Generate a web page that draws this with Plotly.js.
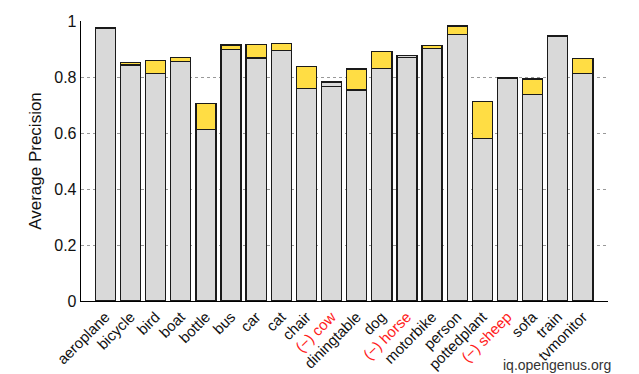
<!DOCTYPE html>
<html>
<head>
<meta charset="utf-8">
<script src="https://cdn.plot.ly/plotly-3.0.1.min.js"></script>
<style>html,body{margin:0;padding:0;background:#fff;}#chart{width:639px;height:374px;}</style>
</head>
<body>
<div id="chart"></div>
<script>
const categories = ["aeroplane","bicycle","bird","boat","bottle","bus","car","cat","chair","(−) cow","diningtable","dog","(−) horse","motorbike","person","pottedplant","(−) sheep","sofa","train","tvmonitor"];
const negativeClass = [false,false,false,false,false,false,false,false,false,true,false,false,true,false,false,false,true,false,false,false];
const baseAP = [0.974,0.843,0.812,0.856,0.613,0.899,0.868,0.894,0.758,0.767,0.754,0.831,0.869,0.902,0.951,0.581,0.795,0.738,0.946,0.812];
const deltaAP = [0.002,0.008,0.046,0.013,0.092,0.015,0.049,0.025,0.079,0.015,0.075,0.061,0.007,0.011,0.031,0.132,0.003,0.055,0.000,0.053];
const yTicks = [0,0.2,0.4,0.6,0.8,1];
const yTickText = ["0","0.2","0.4","0.6","0.8","1"];

const idx = categories.map((c,i)=>i);
const tickText = categories.map((c,i)=> negativeClass[i] ? '<span style="color:#ff2020">'+c+'</span>' : c);
const gray = '#d9d9d9', yellow = '#ffdd44';

const traces = [
  {type:'bar', x:idx, y:baseAP, width:0.8,
   marker:{color:gray, line:{color:'#1a1a1a', width:1.3}}, hoverinfo:'skip'},
  {type:'bar', x:idx, y:deltaAP, width:0.8,
   marker:{color:negativeClass.map(n=>n?gray:yellow), line:{color:'#1a1a1a', width:1.3}}, hoverinfo:'skip'}
];
const layout = {
  width:639, height:374, barmode:'stack', showlegend:false,
  margin:{l:81, r:31, t:21, b:73},
  paper_bgcolor:'#fff', plot_bgcolor:'#fff',
  font:{family:'Liberation Sans, Arial, sans-serif', size:15, color:'#111'},
  xaxis:{range:[-0.97,20], tickvals:idx, ticktext:tickText, tickangle:-45,
    showline:true, linecolor:'#000', linewidth:1.3, ticks:'', showgrid:false, zeroline:false,
    tickfont:{size:15, color:'#111'}},
  yaxis:{range:[0,1], tickvals:yTicks, ticktext:yTickText, showline:true, linecolor:'#000', linewidth:1.3,
    ticks:'', showgrid:true, gridcolor:'#999', griddash:'dot', gridwidth:1, zeroline:false,
    tickfont:{size:16, color:'#111'},
    title:{text:'Average Precision', font:{size:17, color:'#111'}, standoff:8}},
  annotations:[{text:'iq.opengenus.org', xref:'paper', yref:'paper', x:1.01, y:-0.23, xanchor:'right', yanchor:'middle',
    showarrow:false, font:{size:14, color:'#333'}}]
};
Plotly.newPlot('chart', traces, layout, {displayModeBar:false, staticPlot:true});
</script>
</body>
</html>
